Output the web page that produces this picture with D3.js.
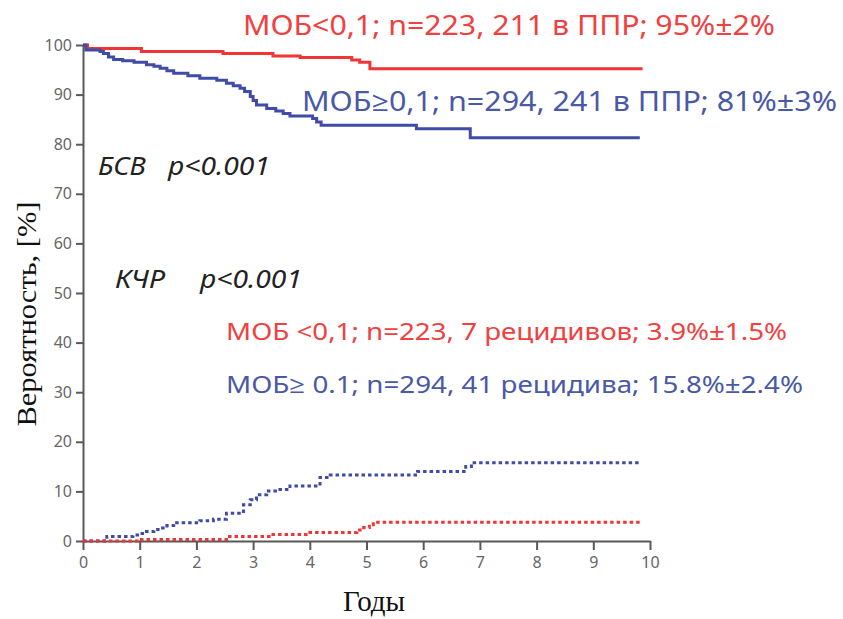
<!DOCTYPE html>
<html>
<head>
<meta charset="utf-8">
<script src="https://cdn.jsdelivr.net/npm/d3@7"></script>
<style>
  body { margin: 0; background: #fff; }
  svg { display: block; }
</style>
</head>
<body>
<div id="chart"></div>
<script>
// Kaplan-Meier / cumulative incidence step data
const efsLowT = [0, 0.08, 1.03, 2.47, 3.35, 3.83, 4.74, 4.88, 5.06, 9.87];
const efsLowV = [100, 99.3, 98.7, 98.3, 97.8, 97.5, 97.0, 96.5, 95.2, 95.2];

const efsHighT = [0, 0.05, 0.3, 0.36, 0.45, 0.54, 0.7, 0.9, 1.12, 1.25, 1.36, 1.48, 1.6, 1.85,
  2.06, 2.36, 2.53, 2.65, 2.77, 2.85, 2.95, 3.0, 3.06, 3.24, 3.4, 3.53, 3.65, 4.05, 4.12, 4.2,
  5.88, 6.83, 9.82];
const efsHighV = [100, 99, 98.7, 98.3, 97.6, 97.1, 96.8, 96.5, 96.0, 95.7, 95.3, 94.8, 94.3, 93.8,
  93.3, 92.9, 92.3, 91.8, 91.3, 90.6, 89.6, 88.8, 87.9, 87.2, 86.7, 86.2, 85.7, 85.2, 84.5, 83.8,
  83.1, 81.3, 81.3];

const cirHighT = [0, 0.42, 0.88, 1.0, 1.12, 1.25, 1.36, 1.48, 1.6, 2.06, 2.3, 2.53, 2.83, 2.95,
  3.06, 3.24, 3.42, 3.65, 4.18, 4.36, 5.9, 6.75, 6.85, 9.82];
const cirHighV = [0, 0.9, 1.2, 1.5, 1.9, 2.3, 2.6, 3.1, 3.7, 4.1, 4.4, 5.6, 7.3, 8.3,
  9.3, 10.1, 10.4, 11.1, 12.8, 13.3, 14.0, 15.0, 15.8, 15.8];

const cirLowT = [0, 1.0, 2.53, 3.35, 4.0, 4.83, 4.95, 5.05, 5.12, 9.87];
const cirLowV = [0, 0.3, 0.9, 1.3, 1.7, 2.2, 2.7, 3.3, 3.8, 3.8];

const xTicks = [0, 1, 2, 3, 4, 5, 6, 7, 8, 9, 10];
const yTicks = [0, 10, 20, 30, 40, 50, 60, 70, 80, 90, 100];

const red = "#ef3535";
const blue = "#3f4ba6";
const redText = "#f04040";
const blueText = "#4a58a8";

const W = 843, H = 619;
const svg = d3.select("#chart").append("svg")
  .attr("width", W).attr("height", H);

const x = d3.scaleLinear().domain([0, 10]).range([83, 650]);
const y = d3.scaleLinear().domain([0, 100]).range([541, 45]);

// axes
const yAxis = svg.append("g")
  .attr("transform", `translate(${x(0)},0)`)
  .call(d3.axisLeft(y).tickValues(yTicks).tickSize(7).tickSizeOuter(0).tickPadding(4));
const xAxis = svg.append("g")
  .attr("transform", `translate(0,${y(0)})`)
  .call(d3.axisBottom(x).tickValues(xTicks).tickSize(9).tickSizeOuter(0).tickPadding(7));

[yAxis, xAxis].forEach(g => {
  g.select(".domain").attr("stroke", "#595959").attr("stroke-width", 2);
  g.selectAll(".tick line").attr("stroke", "#595959").attr("stroke-width", 2);
  g.selectAll(".tick text")
    .attr("fill", "#666")
    .style("font-family", "'Noto Sans', sans-serif")
    .style("font-size", "16px");
});

const line = d3.line()
  .x(d => x(d[0]))
  .y(d => y(d[1]))
  .curve(d3.curveStepAfter);

const series = [
  { t: efsLowT, v: efsLowV, color: red, dash: null },
  { t: efsHighT, v: efsHighV, color: blue, dash: null },
  { t: cirHighT, v: cirHighV, color: blue, dash: "3.5,3" },
  { t: cirLowT, v: cirLowV, color: red, dash: "3.5,3" },
];

svg.selectAll(".curve")
  .data(series)
  .enter()
  .append("path")
  .attr("class", "curve")
  .attr("d", s => line(d3.zip(s.t, s.v)))
  .attr("fill", "none")
  .attr("stroke", s => s.color)
  .attr("stroke-width", 3)
  .attr("stroke-dasharray", s => s.dash);

// annotations
const sans = "'Noto Sans', 'Open Sans', sans-serif";
const notes = [
  { text: "МОБ<0,1;  n=223, 211 в ППР; 95%±2%", x: 243, y: 35, len: 532, size: 27, fill: redText, italic: false },
  { text: "МОБ≥0,1;  n=294, 241 в  ППР; 81%±3%", x: 302, y: 111, len: 535, size: 27, fill: blueText, italic: false },
  { text: "БСВ", x: 98, y: 175, len: 48, size: 26, fill: "#222", italic: true },
  { text: "p<0.001", x: 168, y: 175, len: 102, size: 26, fill: "#222", italic: true },
  { text: "КЧР", x: 115, y: 288, len: 50, size: 26, fill: "#222", italic: true },
  { text: "p<0.001", x: 200, y: 288, len: 102, size: 26, fill: "#222", italic: true },
  { text: "МОБ <0,1; n=223, 7 рецидивов; 3.9%±1.5%", x: 226, y: 340, len: 561, size: 24, fill: redText, italic: false },
  { text: "МОБ≥ 0.1; n=294, 41 рецидива; 15.8%±2.4%", x: 226, y: 393, len: 577, size: 24, fill: blueText, italic: false },
];

svg.selectAll(".note")
  .data(notes)
  .enter()
  .append("text")
  .attr("class", "note")
  .attr("x", d => d.x)
  .attr("y", d => d.y)
  .attr("textLength", d => d.len)
  .attr("lengthAdjust", "spacingAndGlyphs")
  .attr("fill", d => d.fill)
  .style("font-family", sans)
  .style("font-size", d => d.size + "px")
  .style("font-style", d => d.italic ? "italic" : "normal")
  .text(d => d.text);

// axis titles
svg.append("text")
  .attr("transform", "translate(36,314) rotate(-90)")
  .attr("text-anchor", "middle")
  .attr("textLength", 225)
  .attr("lengthAdjust", "spacingAndGlyphs")
  .attr("fill", "#111")
  .style("font-family", "'Liberation Serif', 'DejaVu Serif', serif")
  .style("font-size", "27px")
  .text("Вероятность, [%]");

svg.append("text")
  .attr("x", 374)
  .attr("y", 611)
  .attr("text-anchor", "middle")
  .attr("fill", "#111")
  .style("font-family", "'Liberation Serif', 'DejaVu Serif', serif")
  .style("font-size", "29px")
  .text("Годы");
</script>
</body>
</html>
